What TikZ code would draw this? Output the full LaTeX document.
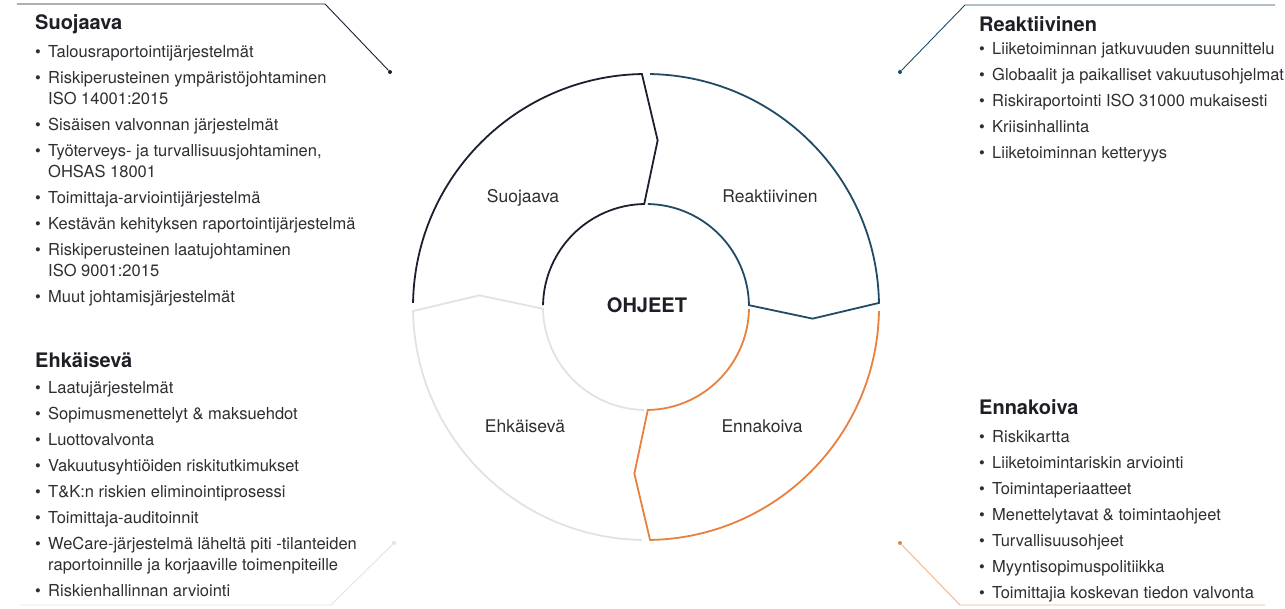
\documentclass[tikz,border=0pt]{standalone}
\usepackage{fontspec}
\setmainfont{TeX Gyre Heros}
\usepackage{tikz}
\usetikzlibrary{positioning}

\definecolor{suoc}{HTML}{1B2030}
\definecolor{reac}{HTML}{1F4B66}
\definecolor{ennc}{HTML}{E8803E}
\definecolor{ehkc}{HTML}{E2E2E2}
\definecolor{headc}{HTML}{1E1F26}
\definecolor{itemc}{HTML}{2E2E33}

\newcommand{\bulit}{\rule{0pt}{14pt}\makebox[13pt][l]{\textbullet}}
\newcommand{\cont}{\hspace*{13pt}}

\begin{document}
\begin{tikzpicture}[x=1pt, y=1pt,
	   hd/.style={inner sep=0pt, anchor=base west, text=headc, font=\fontsize{20}{24}\selectfont\bfseries},
	   lst/.style={inner sep=0pt, align=left, text=itemc, font=\fontsize{16.5}{21}\selectfont},
	   seg/.style={inner sep=0pt, anchor=base, text=itemc, font=\fontsize{17.5}{21}\selectfont},
	   lead/.style={line width=0.9pt},
	   dot/.style={circle, fill, inner sep=0pt, minimum size=4pt}]
	  \useasboundingbox (0,0) rectangle (1285,608);
	  % ring
	  \begin{scope}[shift={(646,301)}, line width=1.8pt]
	    \foreach \a/\c in {-90/ehkc, 180/suoc, 90/reac, 0/ennc}
	      \draw[\c] ({\a-1}:233) arc[start angle=\a-1, end angle=\a-89, radius=233]
	        -- ({\a-94}:167) -- ({\a-89}:103) arc[start angle=\a-89, end angle=\a-1, radius=103];
	  \end{scope}
	  \node[seg, font=\fontsize{20}{24}\selectfont\bfseries, text=headc] (ohj) at (647,295) {OHJEET};
	  \node[seg] (ssuo) at (523,405) {Suojaava};
	  \node[seg] (srea) at (770,405) {Reaktiivinen};
	  \node[seg] (sehk) at (525,175) {Ehkäisevä};
	  \node[seg] (senn) at (762,175) {Ennakoiva};
	  % lists
	  \node[hd] (hsuo) at (35,578) {Suojaava};
	  \node[lst, below=13pt of hsuo.base west, anchor=north west] (lsuo) {%
	    \bulit Talousraportointijärjestelmät\\[5pt]
	    \bulit Riskiperusteinen ympäristöjohtaminen\\
	    \cont ISO 14001:2015\\[5pt]
	    \bulit Sisäisen valvonnan järjestelmät\\[5pt]
	    \bulit Työterveys- ja turvallisuusjohtaminen,\\
	    \cont OHSAS 18001\\[5pt]
	    \bulit Toimittaja-arviointijärjestelmä\\[5pt]
	    \bulit Kestävän kehityksen raportointijärjestelmä\\[5pt]
	    \bulit Riskiperusteinen laatujohtaminen\\
	    \cont ISO 9001:2015\\[5pt]
	    \bulit Muut johtamisjärjestelmät};
	  \node[hd] (hehk) at (35,240) {Ehkäisevä};
	  \node[lst, below=11pt of hehk.base west, anchor=north west] (lehk) {%
	    \bulit Laatujärjestelmät\\[5pt]
	    \bulit Sopimusmenettelyt \& maksuehdot\\[5pt]
	    \bulit Luottovalvonta\\[5pt]
	    \bulit Vakuutusyhtiöiden riskitutkimukset\\[5pt]
	    \bulit T\&K:n riskien eliminointiprosessi\\[5pt]
	    \bulit Toimittaja-auditoinnit\\[5pt]
	    \bulit WeCare-järjestelmä läheltä piti -tilanteiden\\
	    \cont raportoinnille ja korjaaville toimenpiteille\\[5pt]
	    \bulit Riskienhallinnan arviointi};
	  \node[hd] (hrea) at (979,576) {Reaktiivinen};
	  \node[lst, below=8pt of hrea.base west, anchor=north west] (lrea) {%
	    \bulit Liiketoiminnan jatkuvuuden suunnittelu\\[5pt]
	    \bulit Globaalit ja paikalliset vakuutusohjelmat\\[5pt]
	    \bulit Riskiraportointi ISO 31000 mukaisesti\\[5pt]
	    \bulit Kriisinhallinta\\[5pt]
	    \bulit Liiketoiminnan ketteryys};
	  \node[hd] (henn) at (979,193) {Ennakoiva};
	  \node[lst, below=13pt of henn.base west, anchor=north west] (lenn) {%
	    \bulit Riskikartta\\[5pt]
	    \bulit Liiketoimintariskin arviointi\\[5pt]
	    \bulit Toimintaperiaatteet\\[5pt]
	    \bulit Menettelytavat \& toimintaohjeet\\[5pt]
	    \bulit Turvallisuusohjeet\\[5pt]
	    \bulit Myyntisopimuspolitiikka\\[5pt]
	    \bulit Toimittajia koskevan tiedon valvonta};
	  % leader lines
	  \node[dot, suoc] (dsuo) at (390,536) {};
	  \node[dot, reac] (drea) at (900,536) {};
	  \node[dot, ehkc] (dehk) at (394,65) {};
	  \node[dot, ennc] (denn) at (900,65) {};
	  \coordinate (asuo) at (17,604);  \coordinate (ksuo) at (325,604);
	  \coordinate (area) at (1275,603); \coordinate (krea) at (965,603);
	  \coordinate (aehk) at (20,3);    \coordinate (kehk) at (331,3);
	  \coordinate (aenn) at (1265,3);  \coordinate (kenn) at (960,3);
	  \draw[lead, suoc] (asuo) -- (ksuo) -- (dsuo);
	  \draw[lead, reac] (area) -- (krea) -- (drea);
	  \draw[lead, ehkc] (aehk) -- (kehk) -- (dehk);
	  \draw[lead, ennc!60] (aenn) -- (kenn) -- (denn);
	\end{tikzpicture}
\end{document}
